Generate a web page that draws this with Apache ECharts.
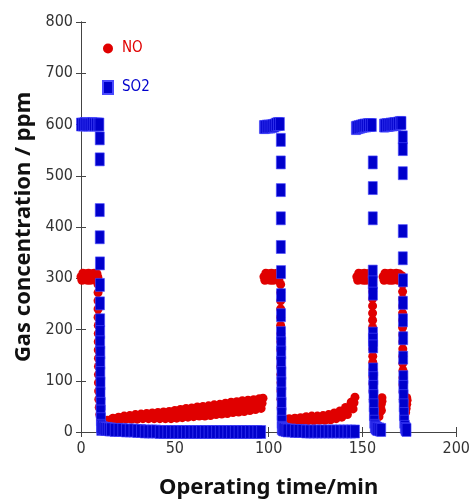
<!DOCTYPE html>
<html>
<head>
<meta charset="utf-8">
<script src="https://cdn.jsdelivr.net/npm/echarts@6/dist/echarts.min.js"></script>
<style>
  html, body { margin: 0; padding: 0; background: #fff; }
  #chart { width: 473px; height: 504px; }
</style>
</head>
<body>
<div id="chart"></div>
<script>
// 轴刻度
const xTicks = { min: 0, max: 200, interval: 50 };
const yTicks = { min: 0, max: 800, interval: 100 };

// NO 数据 [时间 min, 浓度 ppm]
const noPlateau1 = [[0,303],[0.5,296],[1,310],[1.5,303],[2,297],[2.5,309],[3,303],[3.5,296],[4,310],[4.5,302],[5,296],[5.5,309],[6,303],[6.5,297],[7,310],[7.5,303],[8,296],[8.5,309],[9,302]];
const noDrop1 = [[9.1,288],[9.1,272],[9.1,256],[9.1,240],[9.1,224],[9.2,208],[9.2,192],[9.2,176],[9.2,160],[9.3,144],[9.3,128],[9.3,112],[9.3,96],[9.4,80],[9.5,64],[9.7,48],[10,34],[10.5,24],[11,18]];
const noRise1 = [[12,18],[13,21],[14,23],[15,21],[16,24],[17,27],[18,24],[19,26],[20,29],[21,25],[22,28],[23,31],[24,25],[25,28],[26,32],[27,25],[28,29],[29,34],[30,25],[31,30],[32,35],[33,26],[34,31],[35,36],[36,26],[37,32],[38,37],[39,26],[40,32],[41,38],[42,26],[43,33],[44,39],[45,26],[46,33],[47,40],[48,26],[49,34],[50,42],[51,27],[52,35],[53,44],[54,28],[55,37],[56,46],[57,29],[58,38],[59,47],[60,30],[61,39],[62,49],[63,31],[64,40],[65,50],[66,31],[67,42],[68,51],[69,32],[70,43],[71,53],[72,34],[73,44],[74,54],[75,35],[76,46],[77,56],[78,36],[79,47],[80,58],[81,38],[82,48],[83,59],[84,39],[85,50],[86,61],[87,40],[88,51],[89,62],[90,42],[91,52],[92,63],[93,44],[94,55],[95,65],[96,46],[96.5,56],[97,66]];
const noPlateau2 = [[97.5,303],[98,296],[98.5,310],[99,303],[99.5,297],[100,309],[100.5,303],[101,296],[101.5,310],[102,302],[102.5,296],[103,309],[103.5,303],[104,297],[104.5,310],[105,303],[105.5,296],[106,305]];
const noDrop2 = [[106.4,288],[106.4,272],[106.4,256],[106.4,240],[106.4,224],[106.4,208],[106.5,192],[106.5,176],[106.5,160],[106.5,144],[106.5,128],[106.5,112],[106.6,96],[106.6,80],[106.6,64],[106.7,48],[106.9,34],[107.5,26],[108,22]];
const noRise2 = [[109,22],[110,24],[111,26],[112,22],[113,25],[114,27],[115,22],[116,25],[117,28],[118,22],[119,26],[120,30],[121,22],[122,26],[123,31],[124,22],[125,27],[126,31],[127,23],[128,28],[129,32],[130,23],[131,28],[132,34],[133,24],[134,30],[135,37],[136,26],[137,33],[138,41],[139,29],[140,38],[141,48],[142,34],[143,46],[144,58],[145,45],[145.5,57],[146,68]];
const noPlateau3 = [[147,303],[147.5,296],[148,310],[148.5,303],[149,297],[149.5,309],[150,303],[150.5,296],[151,310],[151.5,302],[152,296],[152.5,309],[153,303],[153.5,297],[154,310],[154.5,303],[155,298]];
const noDrop3 = [[155.4,288],[155.4,274],[155.4,260],[155.4,246],[155.4,232],[155.4,218],[155.4,204],[155.5,190],[155.5,176],[155.5,162],[155.5,148],[155.5,136],[155.6,122],[155.6,108],[155.6,94],[155.7,80],[155.8,64],[156,48],[156.3,34]];
const noRise3 = [[158.8,30],[159.2,38],[159.6,46],[160,54],[160.4,60],[160.4,67],[160.1,42]];
const noPlateau4 = [[161,303],[161.5,296],[162,310],[162.5,303],[163,297],[163.5,309],[164,303],[164.5,296],[165,310],[165.5,302],[166,296],[166.5,309],[167,303],[167.5,297],[168,310],[168.5,303],[169,296],[169.5,309],[170,303],[170.5,297],[171,305]];
const noDrop4 = [[171.4,288],[171.4,274],[171.4,260],[171.4,246],[171.4,232],[171.4,218],[171.4,204],[171.5,190],[171.5,176],[171.5,162],[171.5,148],[171.5,134],[171.6,120],[171.6,106],[171.6,92],[171.7,78],[171.8,64],[172.1,50],[172.6,40],[173,38],[173.3,46],[173.6,54],[173.8,62],[173.6,67]];

// SO2 数据 [时间 min, 浓度 ppm]
const so2Plateau1 = [[0,600],[1,600],[2,601],[3,600],[4,600],[5,600],[6,601],[7,600],[8,600],[9,600],[9.8,600]];
const so2Drop1 = [[10,573],[10,532],[10,433],[10,380],[10.1,329],[10.1,287],[10.1,251],[10.2,218],[10.2,195],[10.2,175],[10.3,155],[10.3,135],[10.3,115],[10.4,95],[10.4,75],[10.5,55],[10.5,40],[10.6,25],[10.7,12],[10.8,6]];
const so2Low1 = [[11,9],[12,7],[13,6],[14,6],[15,5],[16,5],[18,4],[20,4],[22,4],[24,3],[26,3],[28,3],[30,2],[32,2],[34,1],[36,1],[38,1],[40,1],[42,0],[44,0],[46,0],[48,0],[50,0],[52,0],[54,0],[56,0],[58,0],[60,0],[62,0],[64,0],[66,0],[68,0],[70,0],[72,0],[74,0],[76,0],[78,0],[80,0],[82,0],[84,0],[86,0],[88,0],[90,0],[92,0],[94,0],[96,0]];
const so2Plateau2 = [[97.5,595],[98,595],[99,596],[100,596],[101,596],[102,597],[103,598],[104,600],[105,601],[106,601]];
const so2Drop2 = [[106.5,570],[106.5,526],[106.5,472],[106.5,417],[106.5,361],[106.6,312],[106.6,267],[106.6,228],[106.6,193],[106.7,173],[106.7,155],[106.7,135],[106.8,115],[106.8,95],[106.8,75],[106.9,55],[106.9,35],[107,20],[107,8]];
const so2Low2 = [[107.5,6],[108,5],[109,4],[110,3],[112,3],[114,2],[116,2],[118,2],[120,1],[122,1],[124,1],[126,1],[128,1],[130,1],[132,1],[134,1],[136,1],[138,1],[140,1],[142,1],[144,1],[146,1]];
const so2Plateau3 = [[146.5,593],[147,594],[148,595],[149,596],[150,597],[151,598],[152,598],[153,599],[154,599],[155,599]];
const so2Drop3 = [[155.5,526],[155.5,476],[155.5,417],[155.5,313],[155.5,292],[155.6,270],[155.6,192],[155.6,180],[155.7,167],[155.7,122],[155.8,105],[155.8,88],[155.9,70],[156,52],[156.1,35],[156.3,20],[156.6,12],[157,9],[157.5,7],[158,6],[159,5],[160,4]];
const so2Plateau4 = [[161.5,598],[162,598],[163,599],[164,599],[165,600],[166,600],[167,601],[168,601],[169,602],[170,603],[170.8,603]];
const so2Drop4 = [[171.5,575],[171.5,552],[171.5,505],[171.5,392],[171.5,339],[171.6,296],[171.6,252],[171.6,218],[171.7,183],[171.7,145],[171.8,107],[171.8,88],[171.9,70],[172,52],[172.1,35],[172.3,20],[172.6,10],[173,6],[173.5,4]];

const noData = [].concat(noPlateau1, noDrop1, noRise1, noPlateau2, noDrop2, noRise2, noPlateau3, noDrop3, noRise3, noPlateau4, noDrop4);
const so2Data = [].concat(so2Plateau1, so2Drop1, so2Low1, so2Plateau2, so2Drop2, so2Low2, so2Plateau3, so2Drop3, so2Plateau4, so2Drop4);

const axisColor = "#444";
const narrowFamily = "'DejaVu Sans Condensed', 'Liberation Sans Narrow', 'Liberation Sans', sans-serif";
const labelFont = { fontFamily: narrowFamily, fontSize: 16, color: "#333" };
const titleFont = { fontFamily: "'Noto Sans', 'Open Sans', sans-serif", fontSize: 22, fontWeight: "bold", color: "#111" };

const chart = echarts.init(document.getElementById("chart"));

const option = {
  animation: false,
  grid: { left: 81, right: 13, top: 22, bottom: 72, containLabel: false },
  legend: {
    orient: "vertical",
    left: 102,
    top: 41,
    padding: 0,
    itemWidth: 10,
    itemHeight: 13,
    itemGap: 24,
    textStyle: { fontFamily: narrowFamily, fontSize: 15, padding: [0, 0, 0, 4] },
    data: [
      { name: "NO", icon: "circle", textStyle: { color: "#e00000" } },
      { name: "SO2", icon: "rect", textStyle: { color: "#0000cc" } },
    ],
  },
  xAxis: [
    {
      type: "value",
      min: xTicks.min, max: xTicks.max, interval: xTicks.interval,
      name: "Operating time/min",
      nameLocation: "middle",
      nameGap: 45,
      nameTextStyle: titleFont,
      axisLine: { show: true, lineStyle: { color: axisColor } },
      axisTick: { show: true, inside: true, length: 5, lineStyle: { color: axisColor } },
      axisLabel: Object.assign({ margin: 9 }, labelFont),
      splitLine: { show: false },
    },
    {
      type: "value",
      position: "top",
      min: xTicks.min, max: xTicks.max, interval: xTicks.interval,
      axisLine: { show: true, lineStyle: { color: axisColor } },
      axisTick: { show: true, inside: true, length: 5, lineStyle: { color: axisColor } },
      axisLabel: { show: false },
      splitLine: { show: false },
    },
  ],
  yAxis: [
    {
      type: "value",
      min: yTicks.min, max: yTicks.max, interval: yTicks.interval,
      name: "Gas concentration / ppm",
      nameLocation: "middle",
      nameGap: 40,
      nameTextStyle: titleFont,
      axisLine: { show: true, lineStyle: { color: axisColor } },
      axisTick: { show: true, inside: true, length: 5, lineStyle: { color: axisColor } },
      axisLabel: Object.assign({ margin: 8 }, labelFont),
      splitLine: { show: false },
    },
    {
      type: "value",
      position: "right",
      min: yTicks.min, max: yTicks.max, interval: yTicks.interval,
      axisLine: { show: true, lineStyle: { color: axisColor } },
      axisTick: { show: true, inside: true, length: 5, lineStyle: { color: axisColor } },
      axisLabel: { show: false },
      splitLine: { show: false },
    },
  ],
  series: [
    {
      name: "NO",
      type: "scatter",
      symbol: "circle",
      symbolSize: 9,
      itemStyle: { color: "#e00000", opacity: 1 },
      data: noData,
      z: 2,
    },
    {
      name: "SO2",
      type: "scatter",
      symbol: "rect",
      symbolSize: [9, 13],
      itemStyle: { color: "#0000cc", borderColor: "#4a4aff", borderWidth: 0.6, opacity: 1 },
      data: so2Data,
      z: 3,
    },
  ],
};

chart.setOption(option);
</script>
</body>
</html>
